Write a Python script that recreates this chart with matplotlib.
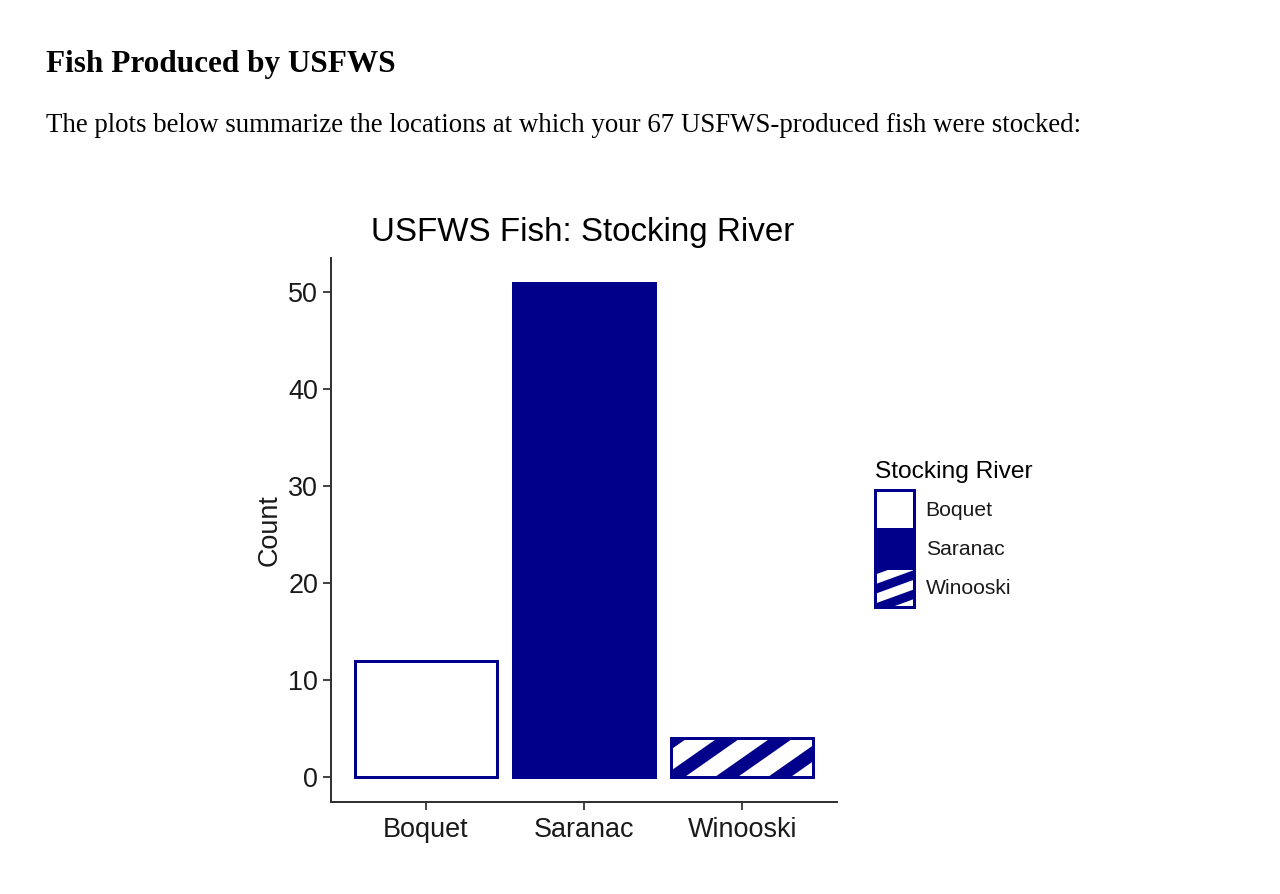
import numpy as np
import matplotlib
matplotlib.use("Agg")
import matplotlib.pyplot as plt
from matplotlib.patches import Polygon
from matplotlib.transforms import IdentityTransform

RIVERS = ["Boquet", "Saranac", "Winooski"]
COUNTS = [12, 51, 4]
TOTAL = sum(COUNTS)

NAVY = "#00008B"
DPI = 100


def px(v):
    # pixel size -> points
    return v * 72.0 / DPI


def add_stripes(fig, patch, angle, offset, period=53, frac=0.43):
    # ggpattern-like stripes, drawn in pixels and clipped to the patch
    bb = patch.get_window_extent()
    run = bb.height / np.tan(np.radians(angle))
    w = period * frac
    x = bb.x0 + offset - period * np.ceil((run + offset) / period + 1)
    while x - run < bb.x1:
        verts = [(x - run, bb.y0), (x - run + w, bb.y0),
                 (x + w, bb.y1), (x, bb.y1)]
        poly = Polygon(verts, closed=True, transform=IdentityTransform(),
                       facecolor=NAVY, edgecolor="none", zorder=5)
        poly.set_clip_path(patch)
        fig.add_artist(poly)
        x += period


plt.rcParams["font.family"] = ["Liberation Sans", "DejaVu Sans"]

fig = plt.figure(figsize=(1280 / DPI, 894 / DPI), dpi=DPI)

# page text above the plot
fig.text(46 / 1280, 1 - 72 / 894, "Fish Produced by USFWS",
         family=["Liberation Serif", "DejaVu Serif"], weight="bold",
         fontsize=px(31.3), va="baseline", ha="left")
fig.text(46 / 1280, 1 - 132 / 894,
         "The plots below summarize the locations at which your %d USFWS-produced fish were stocked:" % TOTAL,
         family=["Liberation Serif", "DejaVu Serif"],
         fontsize=px(26.9), va="baseline", ha="left")

ax = fig.add_axes([331 / 1280, 1 - 802 / 894, 506 / 1280, 544 / 894])

x = range(1, len(RIVERS) + 1)
bars = ax.bar(x, COUNTS, width=0.9, color="white", edgecolor=NAVY,
              linewidth=px(3))
bars.patches[1].set_facecolor(NAVY)

ax.set_xlim(0.4, 3.6)
ax.set_ylim(-2.55, 53.55)
ax.set_xticks(list(x))
ax.set_xticklabels(RIVERS)
ax.set_yticks(range(0, 51, 10))

for side in ["top", "right"]:
    ax.spines[side].set_visible(False)
for side in ["left", "bottom"]:
    ax.spines[side].set_linewidth(px(2))
    ax.spines[side].set_color("#333333")

ax.tick_params(length=px(8), width=px(1.8), color="#333333",
               labelsize=px(27), labelcolor="#1a1a1a")
ax.tick_params(axis="x", pad=px(7))
ax.tick_params(axis="y", pad=px(5))
ax.set_ylabel("Count", fontsize=px(27), color="#1a1a1a", labelpad=px(5))

fig.text(583 / 1280, 1 - 241 / 894, "USFWS Fish: Stocking River",
         fontsize=px(33.2), ha="center", va="baseline")

# legend
fig.text(875 / 1280, 1 - 478 / 894, "Stocking River",
         fontsize=px(24.5), ha="left", va="baseline")
leg = ax.legend(handles=bars.patches, labels=RIVERS,
                loc="upper left", bbox_to_anchor=(875 / 1280, 1 - 490 / 894),
                bbox_transform=fig.transFigure, frameon=False,
                fontsize=px(21.2), borderpad=0, borderaxespad=0,
                labelspacing=0, handlelength=1.84, handleheight=2.45,
                handletextpad=0.55)
for t in leg.get_texts():
    t.set_color("#1a1a1a")

# positions are needed before the stripes can be laid out
fig.canvas.draw()
add_stripes(fig, bars.patches[2], angle=35, offset=-7)
add_stripes(fig, leg.legend_handles[2], angle=20, offset=-8, frac=0.5)

fig.savefig("out.png", dpi=DPI, facecolor="white")
